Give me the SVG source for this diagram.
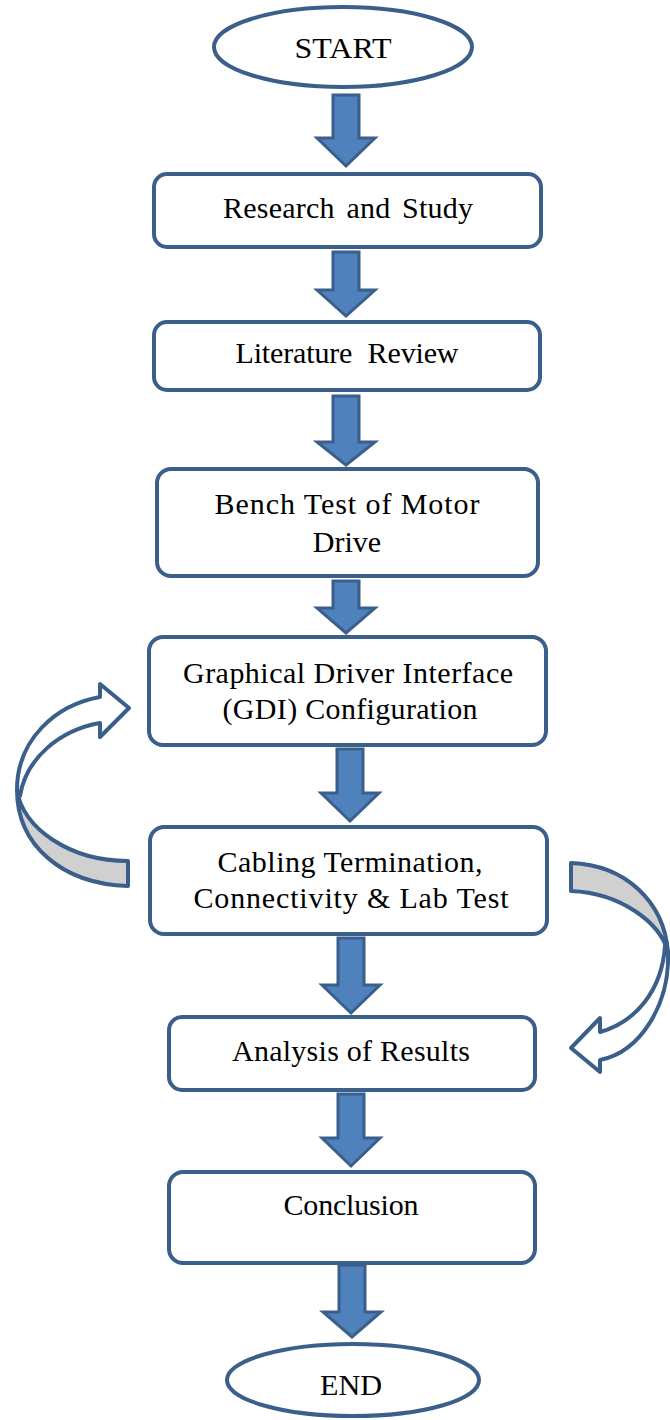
<svg xmlns="http://www.w3.org/2000/svg" width="670" height="1420" viewBox="0 0 670 1420">
<style>
.n{fill:#fff;stroke:#3A5F8B;stroke-width:4}
.a{fill:#4F81BD;stroke:#3A5F8B;stroke-width:3;stroke-linejoin:miter}
.c{stroke:#3A5F8B;stroke-width:4;stroke-linejoin:round}
.t{font-family:"Liberation Serif","Times New Roman",serif;font-size:30px;fill:#000;text-anchor:middle}
</style>
<rect width="670" height="1420" fill="#fff"/>
<g id="connectors">
<polygon class="a" points="333,95 359,95 359,138 375,138 346,166 317,138 333,138"/>
<polygon class="a" points="333,252 359,252 359,290 375,290 346,316 317,290 333,290"/>
<polygon class="a" points="333,396 359,396 359,442 375,442 346,465 317,442 333,442"/>
<polygon class="a" points="333,581 359,581 359,608 375,608 346,633 317,608 333,608"/>
<polygon class="a" points="337,749 363,749 363,793 379,793 350,821 321,793 337,793"/>
<polygon class="a" points="338,938 364,938 364,985 380,985 351,1013 322,985 338,985"/>
<polygon class="a" points="338,1094 364,1094 364,1138 380,1138 351,1166 322,1138 338,1138"/>
<polygon class="a" points="339,1265 365,1265 365,1312 381,1312 352,1337 323,1312 339,1312"/>
<g id="loop-left">
<path class="c" fill="#D0D0D0" d="M128,886 C62,884 17,845 17,790 C22,828 70,861 128,861 Z"/>
<path class="c" fill="#fff" d="M17,790 C17,740 55,705 100,697 L100,684 L129,708 L100,737 L100,723 C60,730 26,758 20,796 Z"/>
</g>
<g id="loop-right">
<path class="c" fill="#D0D0D0" d="M571,863 C626,865 664,902 668,952 C660,922 620,893 571,891 Z"/>
<path class="c" fill="#fff" d="M668,952 C670,1005 640,1052 600,1060 L600,1072 L571,1048 L600,1018 L600,1032 C636,1022 662,990 665,946 Z"/>
</g>
</g>
<g id="start">
<ellipse class="n" cx="343" cy="47" rx="129" ry="40"/>
<text class="t" x="343" y="58" textLength="97" lengthAdjust="spacingAndGlyphs">START</text>
</g>
<g id="research">
<rect class="n" x="154" y="174" width="387" height="73" rx="13"/>
<text class="t" x="348" y="218" textLength="250" lengthAdjust="spacing" word-spacing="4">Research and Study</text>
</g>
<g id="literature">
<rect class="n" x="154" y="322" width="386" height="68" rx="13"/>
<text class="t" x="347" y="363" textLength="223" lengthAdjust="spacing" word-spacing="8">Literature Review</text>
</g>
<g id="bench">
<rect class="n" x="157" y="469" width="381" height="107" rx="14"/>
<text class="t" x="347" y="514" textLength="265" lengthAdjust="spacing">Bench Test of Motor</text>
<text class="t" x="347" y="552">Drive</text>
</g>
<g id="gdi">
<rect class="n" x="149" y="637" width="397" height="108" rx="14"/>
<text class="t" x="348" y="683" textLength="330" lengthAdjust="spacing">Graphical Driver Interface</text>
<text class="t" x="350" y="719" textLength="255" lengthAdjust="spacing">(GDI) Configuration</text>
</g>
<g id="cabling">
<rect class="n" x="150" y="827" width="397" height="107" rx="14"/>
<text class="t" x="350" y="872" textLength="265" lengthAdjust="spacing">Cabling Termination,</text>
<text class="t" x="351" y="908" textLength="315" lengthAdjust="spacing">Connectivity &amp; Lab Test</text>
</g>
<g id="analysis">
<rect class="n" x="169" y="1017" width="366" height="73" rx="13"/>
<text class="t" x="351" y="1061" textLength="238" lengthAdjust="spacing">Analysis of Results</text>
</g>
<g id="conclusion">
<rect class="n" x="169" y="1172" width="366" height="91" rx="14"/>
<text class="t" x="351" y="1215" textLength="135" lengthAdjust="spacing">Conclusion</text>
</g>
<g id="end">
<ellipse class="n" cx="353" cy="1380" rx="126" ry="36"/>
<text class="t" x="351" y="1395" textLength="62" lengthAdjust="spacingAndGlyphs">END</text>
</g>
</svg>
